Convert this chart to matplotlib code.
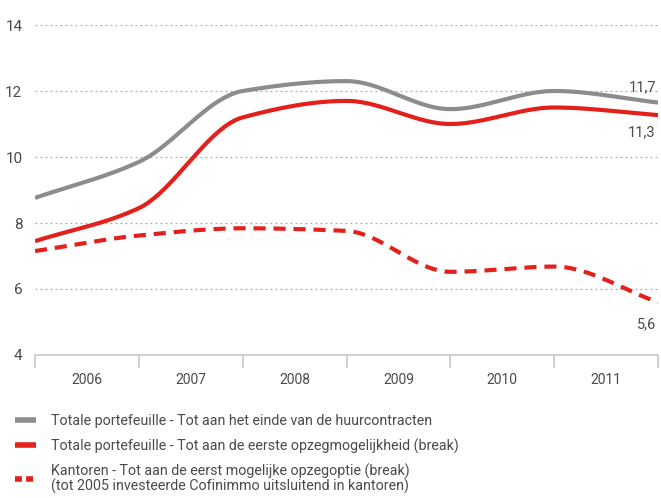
import numpy as np
import matplotlib
matplotlib.use("Agg")
import matplotlib.pyplot as plt

years = ["2006", "2007", "2008", "2009", "2010", "2011"]
# values at year boundaries (start 2006 ... end 2011)
totaal_einde = [8.76, 9.85, 12.0, 12.3, 11.45, 12.0, 11.65]
totaal_break = [7.45, 8.45, 11.2, 11.7, 11.0, 11.5, 11.27]
kantoren_break = [7.15, 7.62, 7.84, 7.76, 6.52, 6.68, 5.6]
end_labels = ["11,7", "11,3", "5,6"]
legend_labels = [
    "Totale portefeuille - Tot aan het einde van de huurcontracten",
    "Totale portefeuille - Tot aan de eerste opzegmogelijkheid (break)",
    "Kantoren - Tot aan de eerst mogelijke opzegoptie (break)\n(tot 2005 investeerde Cofinimmo uitsluitend in kantoren)",
]

GRAY = "#8c8c8c"
RED = "#e3201b"
TXT = "#4a4a4a"
FONT = ["Roboto", "DejaVu Sans"]
plt.rcParams["font.family"] = FONT


def smooth(y, n=40):
    """Monotone cubic (PCHIP-style) curve through the points."""
    y = np.asarray(y, float)
    m = len(y)
    d = np.diff(y)
    t = np.zeros(m)
    for i in range(1, m - 1):
        if d[i - 1] * d[i] > 0:
            t[i] = 2 * d[i - 1] * d[i] / (d[i - 1] + d[i])
        else:
            t[i] = 0.0
    t[0] = d[0]
    t[-1] = d[-1]
    xs, ys = [], []
    for i in range(m - 1):
        s = np.linspace(0, 1, n, endpoint=(i == m - 2))
        h00 = 2 * s**3 - 3 * s**2 + 1
        h10 = s**3 - 2 * s**2 + s
        h01 = -2 * s**3 + 3 * s**2
        h11 = s**3 - s**2
        ys.append(h00 * y[i] + h10 * t[i] + h01 * y[i + 1] + h11 * t[i + 1])
        xs.append(i + s)
    return np.concatenate(xs), np.concatenate(ys)


fig = plt.figure(figsize=(6.61, 4.98), dpi=100)
ax = fig.add_axes([35 / 661, 1 - 355 / 498, 623 / 661, 330 / 498])
ax.set_xlim(0, len(years))
ax.set_ylim(4, 14)

for v in [6, 8, 10, 12, 14]:
    ax.axhline(v, color="#aaaaaa", lw=0.9, ls=(0, (1.5, 2.5)), zorder=1)

l1, = ax.plot(*smooth(totaal_einde), color=GRAY, lw=3.0, solid_capstyle="butt", zorder=3)
l2, = ax.plot(*smooth(totaal_break), color=RED, lw=3.0, solid_capstyle="butt", zorder=3)
l3, = ax.plot(*smooth(kantoren_break), color=RED, lw=3.0, ls=(0, (2.9, 1.9)),
              dash_capstyle="butt", zorder=3)

n = len(years)
ax.text(n - 0.02, totaal_einde[-1] + 0.25, end_labels[0], ha="right", va="bottom",
        fontsize=10.5, color=TXT)
ax.text(n - 0.02, totaal_break[-1] - 0.3, end_labels[1], ha="right", va="top",
        fontsize=10.5, color=TXT)
ax.text(n - 0.02, kantoren_break[-1] - 0.45, end_labels[2], ha="right", va="top",
        fontsize=10.5, color=TXT)

for s in ["top", "right", "left"]:
    ax.spines[s].set_visible(False)
ax.spines["bottom"].set_color("#c8c8c8")
ax.spines["bottom"].set_linewidth(1.2)

ax.set_yticks([4, 6, 8, 10, 12, 14])
ax.set_yticklabels(["4", "6", "8", "10", "12", "14"])
ax.tick_params(axis="y", length=0, pad=9, labelsize=11, labelcolor=TXT)

ax.set_xticks(np.arange(n + 1))
ax.set_xticklabels([])
ax.tick_params(axis="x", which="major", length=9, width=1.2, color="#c8c8c8")
ax.set_xticks(np.arange(n) + 0.5, minor=True)
ax.set_xticklabels(years, minor=True)
ax.tick_params(axis="x", which="minor", length=0, pad=13, labelsize=10, labelcolor=TXT)

leg = fig.legend([l1, l2, l3], legend_labels, loc="upper left",
                 bbox_to_anchor=(15 / 661, 1 - 414 / 498), frameon=False,
                 fontsize=10.3, labelcolor=TXT, handlelength=1.45, handletextpad=1.05,
                 labelspacing=0.72, borderaxespad=0, borderpad=0)
hs = leg.legend_handles
for h in hs:
    h.set_linewidth(4)
hs[2].set_linestyle((0, (1.25, 0.75)))
for t in leg.get_texts():
    t.set_linespacing(0.95)

fig.savefig("out.png", dpi=100)
